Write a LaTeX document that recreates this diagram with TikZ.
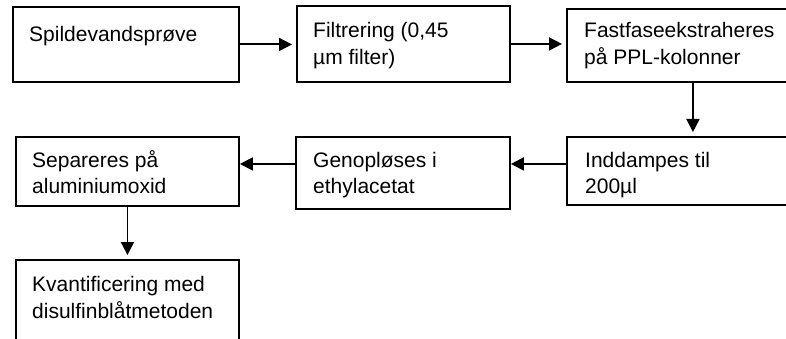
\documentclass[tikz,border=0pt]{standalone}
\usepackage{fontspec}
\setmainfont{Liberation Sans}
\usetikzlibrary{arrows.meta}

\begin{document}
\begin{tikzpicture}[
    x=1pt, y=-1pt,
    font=\fontsize{21}{26.5}\selectfont,
    >={Triangle[length=13pt, width=13pt]},
    boks/.style={draw, line width=1.9pt, anchor=north west, inner sep=0pt},
    tekst/.style={anchor=base west, align=left, inner sep=0pt},
    pil/.style={->, line width=1.9pt},
]
    \useasboundingbox (0,0) rectangle (786,339);
    \clip (0,0) rectangle (786,339);
    % top row
    \node[boks, minimum width=226pt, minimum height=75pt] (spild) at (12,6) {};
    \node[boks, minimum width=213pt, minimum height=76pt] (filt) at (296,5) {};
    \node[boks, minimum width=252pt, minimum height=73pt] (fast) at (566,8) {};
    % middle row
    \node[boks, minimum width=252pt, minimum height=68pt] (indd) at (566,136) {};
    \node[boks, minimum width=214pt, minimum height=72pt] (geno) at (295,136) {};
    \node[boks, minimum width=223pt, minimum height=69pt] (sep) at (15,136) {};
    % bottom box
    \node[boks, minimum width=223pt, minimum height=100pt] (kvant) at (15,259) {};
    % texts (base = last line)
    \node[tekst] (spild-t) at ([shift={(17,36)}]spild.north west) {Spildevandsprøve};
    \node[tekst] (filt-t) at ([shift={(17,59.5)}]filt.north west) {Filtrering (0,45\\µm filter)};
    \node[tekst] (fast-t) at ([shift={(18,56.5)}]fast.north west) {Fastfaseekstraheres\\på PPL-kolonner};
    \node[tekst] (indd-t) at ([shift={(19,57.5)}]indd.north west) {Inddampes til\\200µl};
    \node[tekst] (geno-t) at ([shift={(18,57.5)}]geno.north west) {Genopløses i\\ethylacetat};
    \node[tekst] (sep-t) at ([shift={(17,57.5)}]sep.north west) {Separeres på\\aluminiumoxid};
    \node[tekst] (kvant-t) at ([shift={(17,59)}]kvant.north west) {Kvantificering med\\disulfinblåtmetoden};
    % arrows
    \draw[pil, shorten >=4pt] (spild.east) -- (spild.east -| filt.west);
    \draw[pil, shorten >=4pt] (filt.east) -- (filt.east -| fast.west);
    \draw[pil, shorten >=4pt] (fast.south) -- (indd.north);
    \draw[pil] ([yshift=7pt]indd.west) -- ([yshift=7pt]indd.west -| geno.east);
    \draw[pil] ([yshift=9pt]geno.west) -- ([yshift=9pt]geno.west -| sep.east);
    \draw[pil, shorten >=4pt] (sep.south) -- (sep.south |- kvant.north);
\end{tikzpicture}
\end{document}
